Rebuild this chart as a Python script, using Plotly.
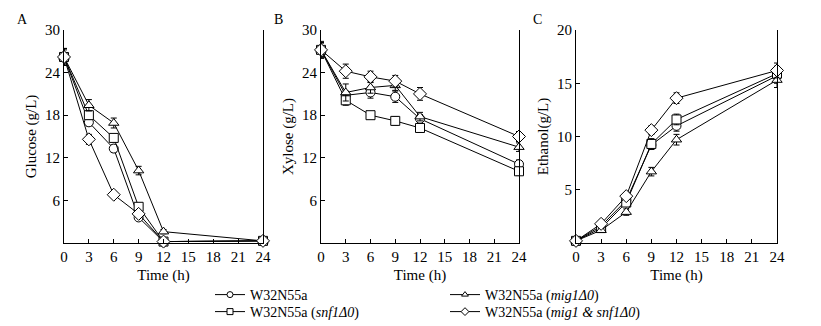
import plotly.graph_objects as go

time_h = [0, 3, 6, 9, 12, 24]
x_ticks = [0, 3, 6, 9, 12, 15, 18, 21, 24]

series_names = [
    "W32N55a",
    "W32N55a (<i>snf1Δ0</i>)",
    "W32N55a (<i>mig1Δ0</i>)",
    "W32N55a (<i>mig1 &amp; snf1Δ0</i>)",
]
series_symbols = ["circle", "square", "triangle-up", "diamond"]

# Glucose (g/L): circle, square, triangle, diamond
glucose_wt = [26.2, 17.0, 13.3, 3.6, 0.2, 0.3]
glucose_snf1 = [26.2, 18.0, 14.8, 5.1, 0.2, 0.3]
glucose_mig1 = [26.2, 19.4, 16.9, 10.2, 1.6, 0.3]
glucose_double = [26.2, 14.6, 6.8, 4.1, 0.2, 0.3]
glucose_wt_err = [1.0, 0.5, 0.5, 0.3, 0.2, 0.2]
glucose_snf1_err = [1.2, 0.6, 0.5, 0.5, 0.2, 0.2]
glucose_mig1_err = [1.2, 0.8, 0.7, 0.6, 0.3, 0.2]
glucose_double_err = [1.2, 0.7, 0.4, 0.4, 0.2, 0.2]

# Xylose (g/L)
xylose_wt = [27.2, 20.8, 21.2, 20.6, 17.5, 11.1]
xylose_snf1 = [27.2, 20.1, 18.0, 17.2, 16.2, 10.1]
xylose_mig1 = [27.2, 21.2, 21.9, 22.2, 17.8, 13.5]
xylose_double = [27.2, 24.2, 23.4, 22.8, 21.0, 15.0]
xylose_wt_err = [1.0, 0.6, 0.8, 0.8, 0.6, 0.6]
xylose_snf1_err = [1.2, 0.7, 0.5, 0.6, 0.6, 0.6]
xylose_mig1_err = [1.0, 1.2, 0.8, 0.7, 0.6, 0.6]
xylose_double_err = [1.0, 1.0, 0.8, 0.8, 0.9, 0.7]

# Ethanol (g/L)
ethanol_wt = [0.2, 1.6, 4.0, 9.2, 11.0, 15.7]
ethanol_snf1 = [0.2, 1.4, 3.8, 9.3, 11.6, 15.9]
ethanol_mig1 = [0.2, 1.2, 2.9, 6.7, 9.7, 15.3]
ethanol_double = [0.2, 1.8, 4.4, 10.6, 13.6, 16.2]
ethanol_wt_err = [0.1, 0.2, 0.3, 0.4, 0.5, 0.7]
ethanol_snf1_err = [0.1, 0.2, 0.3, 0.5, 0.5, 0.7]
ethanol_mig1_err = [0.1, 0.2, 0.3, 0.4, 0.5, 0.7]
ethanol_double_err = [0.1, 0.2, 0.3, 0.4, 0.5, 0.7]

panels = [
    ("Glucose (g/L)", [0, 30], [6, 12, 18, 24, 30],
     [glucose_wt, glucose_snf1, glucose_mig1, glucose_double],
     [glucose_wt_err, glucose_snf1_err, glucose_mig1_err, glucose_double_err]),
    ("Xylose (g/L)", [0, 30], [6, 12, 18, 24, 30],
     [xylose_wt, xylose_snf1, xylose_mig1, xylose_double],
     [xylose_wt_err, xylose_snf1_err, xylose_mig1_err, xylose_double_err]),
    ("Ethanol(g/L)", [0, 20], [5, 10, 15, 20],
     [ethanol_wt, ethanol_snf1, ethanol_mig1, ethanol_double],
     [ethanol_wt_err, ethanol_snf1_err, ethanol_mig1_err, ethanol_double_err]),
]
panel_letters = ["A", "B", "C"]

W, H = 821, 326
FONT = "Liberation Serif, Times New Roman, serif"
x_domains = [(64 / W, 263 / W), (321 / W, 519 / W), (576 / W, 777 / W)]
y_domain = ((326 - 243) / H, (326 - 30) / H)

fig = go.Figure()
legend_ids = ["legend", "legend2", "legend3", "legend4"]
legend_pos = [(210, 295), (210, 312), (445, 295), (445, 312)]

for p, (ytitle, yrange, yticks, ys, errs) in enumerate(panels):
    xa = "x" if p == 0 else f"x{p+1}"
    ya = "y" if p == 0 else f"y{p+1}"
    for i in range(4):
        fig.add_trace(go.Scatter(
            x=time_h, y=ys[i], xaxis=xa, yaxis=ya,
            mode="lines+markers",
            name=series_names[i],
            showlegend=False,
            line=dict(color="black", width=1),
            marker=dict(symbol=series_symbols[i], size=9 if i != 3 else 10,
                        color="white", line=dict(color="black", width=1)),
            error_y=dict(type="data", array=errs[i], color="black", thickness=1, width=3),
            cliponaxis=False,
        ))
    axis_common = dict(showgrid=False, zeroline=False, showline=True, linecolor="black", linewidth=1,
                       ticks="inside", ticklen=4, tickcolor="black", automargin=False,
                       tickfont=dict(family=FONT, size=15, color="black"))
    fig.layout[f"xaxis{'' if p == 0 else p+1}"] = dict(
        domain=x_domains[p], anchor=ya, range=[0, 24], tickvals=x_ticks,
        title=dict(text="Time (h)", font=dict(family=FONT, size=15, color="black"), standoff=5),
        mirror=False, **axis_common)
    fig.layout[f"yaxis{'' if p == 0 else p+1}"] = dict(
        domain=y_domain, anchor=xa, range=yrange, tickvals=yticks,
        title=dict(text=ytitle, font=dict(family=FONT, size=15, color="black"), standoff=4),
        mirror=True, **axis_common)
    fig.add_annotation(text=panel_letters[p], xref="paper", yref="paper",
                       x=[22 / W, 278 / W, 537 / W][p], y=(326 - 19) / H,
                       showarrow=False, xanchor="center", yanchor="middle",
                       font=dict(family=FONT, size=14, color="black"))

# legend-only entries with small markers
for i in range(4):
    fig.add_trace(go.Scatter(
        x=[None], y=[None], mode="lines+markers", name=series_names[i],
        legend=legend_ids[i], showlegend=True,
        line=dict(color="black", width=1),
        marker=dict(symbol=series_symbols[i], size=6, color="white", line=dict(color="black", width=1)),
    ))

legend_common = dict(orientation="v", bgcolor="rgba(0,0,0,0)", font=dict(family=FONT, size=14, color="black"),
                     xanchor="left", yanchor="middle", tracegroupgap=0, itemwidth=30)
layout_legends = {}
for i in range(4):
    lx, ly = legend_pos[i]
    layout_legends[legend_ids[i]] = dict(x=lx / W, y=(326 - ly) / H, **legend_common)

fig.update_layout(
    width=W, height=H,
    margin=dict(l=0, r=0, t=0, b=0, autoexpand=False),
    paper_bgcolor="white", plot_bgcolor="white",
    showlegend=True,
    **layout_legends,
)

fig.write_html("out.html")
